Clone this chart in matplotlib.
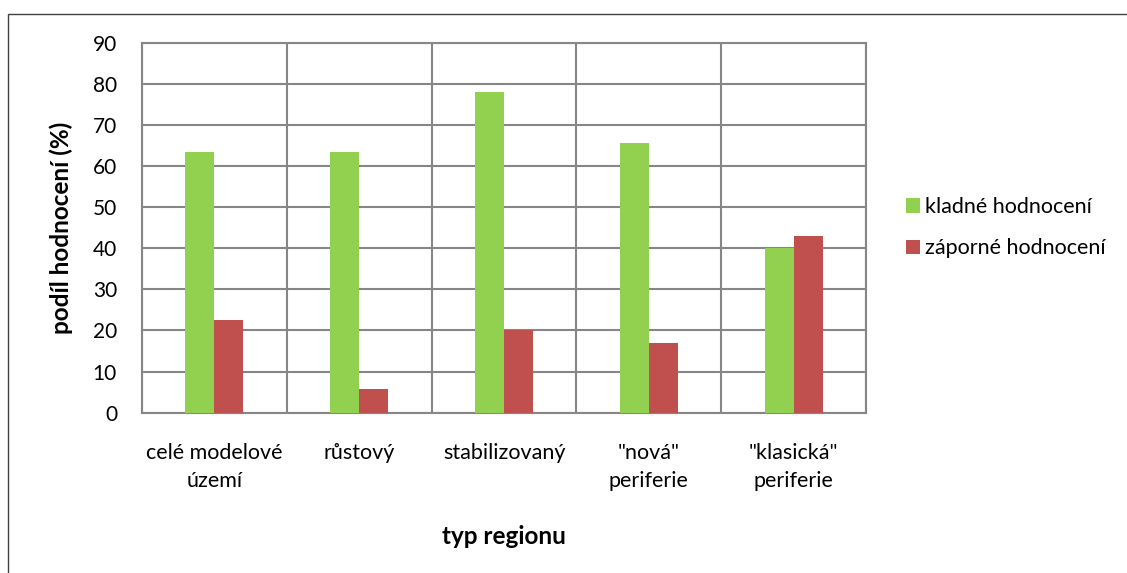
import numpy as np
import matplotlib.pyplot as plt
from matplotlib.patches import Rectangle

plt.rcParams['font.family'] = ['Lato', 'DejaVu Sans']

categories = ['celé modelové\núzemí', 'růstový', 'stabilizovaný', '"nová"\nperiferie', '"klasická"\nperiferie']
kladne = [63.3, 63.3, 78.0, 65.7, 40.1]
zaporne = [22.6, 5.8, 20.0, 17.0, 42.9]
series_names = ['kladné hodnocení', 'záporné hodnocení']

green = '#92D050'
red = '#C0504D'
grid_color = '#868686'

fig = plt.figure(figsize=(11.27, 5.73), dpi=100)
fig.patches.append(Rectangle((7.5 / 1127, -0.05), 1.1, 1.05 - 13.5 / 573, transform=fig.transFigure,
                             fill=False, edgecolor='#404040', linewidth=1))
ax = fig.add_axes([0.126, 0.2798, 0.6425, 0.6457])

x = np.arange(len(categories))
w = 0.2
ax.bar(x - w / 2, kladne, w, color=green, label=series_names[0], zorder=3)
ax.bar(x + w / 2, zaporne, w, color=red, label=series_names[1], zorder=3)

ax.set_xlim(-0.5, len(categories) - 0.5)
ax.set_ylim(0, 90)
ax.set_yticks(np.arange(0, 91, 10))
ax.set_xticks(x)
ax.set_xticklabels(categories, fontsize=15.5, linespacing=1.5)
ax.tick_params(axis='x', length=0, pad=22)
ax.tick_params(axis='y', length=0, pad=18, labelsize=15)

# svislé čáry mezi kategoriemi
ax.set_xticks(np.arange(-0.5, len(categories), 1), minor=True)
ax.tick_params(axis='x', which='minor', length=0)
ax.grid(axis='y', which='major', color=grid_color, linewidth=1.5, zorder=0)
ax.grid(axis='x', which='minor', color=grid_color, linewidth=1.5, zorder=0)
for s in ax.spines.values():
    s.set_color(grid_color)
    s.set_linewidth(1.5)

ax.set_ylabel('podíl hodnocení (%)', fontsize=17.5, fontweight='bold', labelpad=14)
ax.set_xlabel('typ regionu', fontsize=17.5, fontweight='bold', labelpad=24)

ax.legend(loc='center left', bbox_to_anchor=(1.028, 0.5), frameon=False, fontsize=15.5,
          handlelength=0.65, handleheight=0.65, handletextpad=0.25, labelspacing=1.0)

plt.savefig('out.png', dpi=100)
